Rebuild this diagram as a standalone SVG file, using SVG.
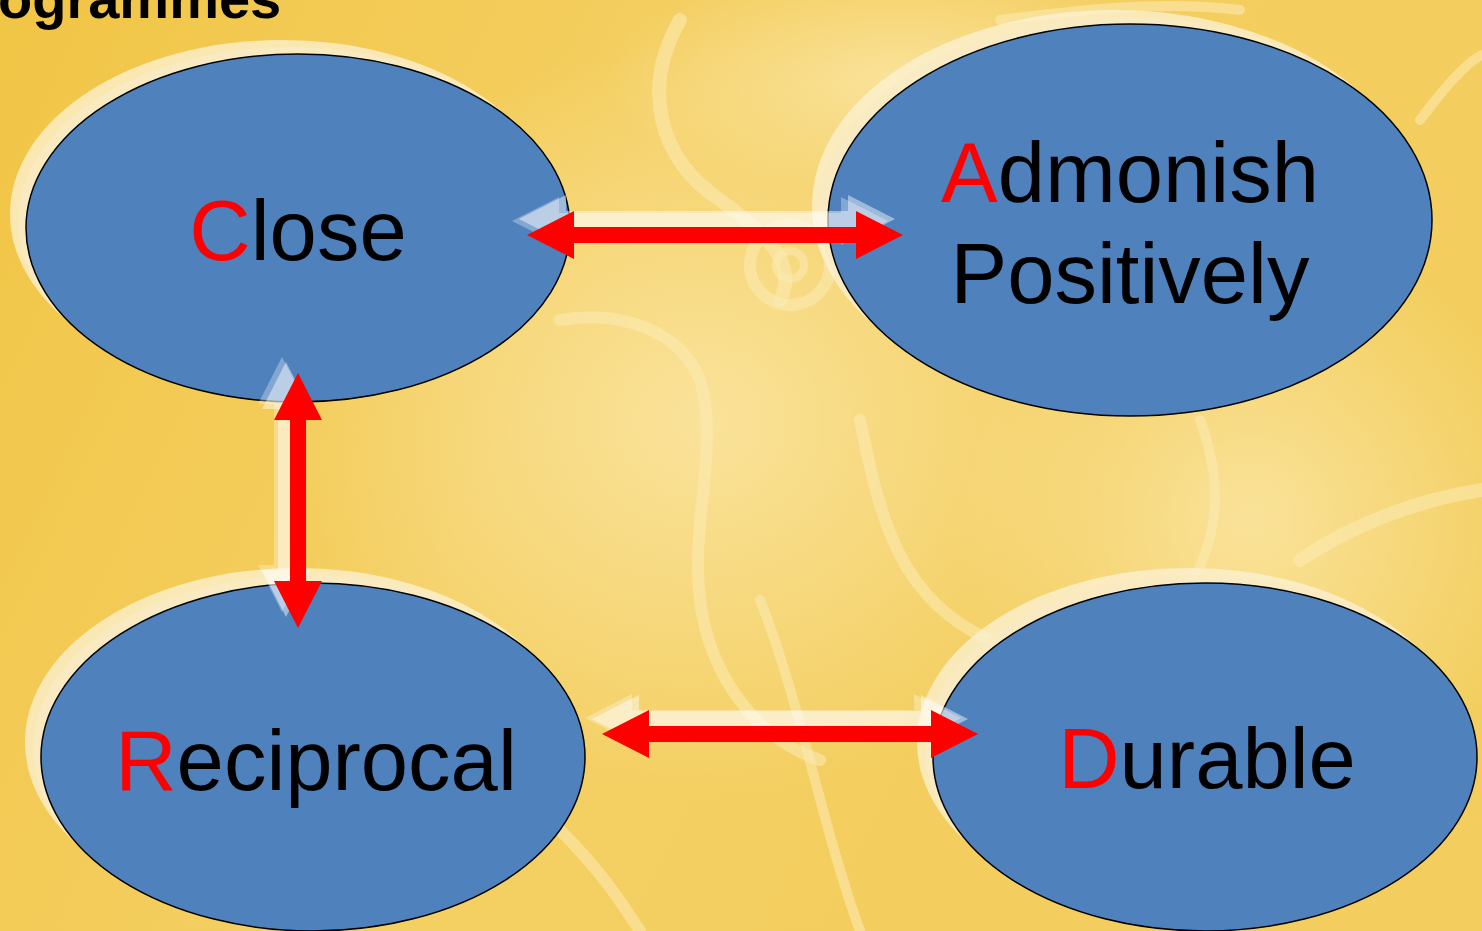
<svg xmlns="http://www.w3.org/2000/svg" width="1482" height="931" viewBox="0 0 1482 931">
<defs>
<linearGradient id="bg" x1="0" y1="0" x2="1" y2="0.3">
<stop offset="0" stop-color="#F1C545"/>
<stop offset="0.45" stop-color="#F4CF62"/>
<stop offset="1" stop-color="#F3CE5E"/>
</linearGradient>
<radialGradient id="glow1" cx="0.5" cy="0.5" r="0.5">
<stop offset="0" stop-color="#FBE7A8" stop-opacity="0.8"/>
<stop offset="1" stop-color="#FBE7A8" stop-opacity="0"/>
</radialGradient>
<path id="harr" d="M0,0 L47,-24 L47,-8 L329,-8 L329,-24 L376,0 L329,24 L329,8 L47,8 L47,24 Z"/>
<path id="varr" d="M0,0 L24,47 L8,47 L8,208 L24,208 L0,255 L-24,208 L-8,208 L-8,47 L-24,47 Z"/>
</defs>
<style>
.node{fill:#4F81BD;stroke:#000;stroke-width:1.5}
.halo1{fill:#FCF2D4;opacity:0.75}
.halo2{fill:#F8EAC2;opacity:0.9}
.lbl{font-family:"Liberation Sans",Arial,sans-serif;font-size:85px;text-anchor:middle;fill:#000}
.r{fill:#FF0000}
.arrow{fill:#FF0000}
.sh1{fill:#FFFFFF;opacity:0.45}
.sh2{fill:#FFFFFF;opacity:0.3}
.swirl{fill:none;stroke:#FCEBB5;stroke-linecap:round;opacity:0.55}
</style>
<rect width="1482" height="931" fill="url(#bg)"/>
<g id="background">
<ellipse cx="700" cy="420" rx="420" ry="380" fill="url(#glow1)"/>
<ellipse cx="1250" cy="520" rx="300" ry="300" fill="url(#glow1)"/>
<ellipse cx="900" cy="80" rx="300" ry="120" fill="url(#glow1)"/>
<path class="swirl" stroke-width="14" d="M680,20 C640,90 660,160 720,200 C760,230 800,260 780,300"/>
<path class="swirl" stroke-width="12" d="M560,320 C620,310 680,330 700,380 C720,450 690,520 700,600 C710,680 760,740 820,760"/>
<path class="swirl" stroke-width="12" d="M860,420 C880,520 900,600 990,640"/>
<path class="swirl" stroke-width="10" d="M1200,420 C1230,500 1210,560 1180,600"/>
<path class="swirl" stroke-width="14" d="M1300,560 C1360,520 1420,500 1482,490"/>
<path class="swirl" stroke-width="10" d="M1420,120 C1450,80 1470,60 1482,55"/>
<path class="swirl" stroke-width="12" d="M560,830 C600,870 620,900 640,931"/>
<path class="swirl" stroke-width="10" d="M760,600 C800,700 820,820 860,931"/>
<circle class="swirl" stroke-width="12" cx="790" cy="265" r="40"/>
<circle class="swirl" stroke-width="8" cx="790" cy="265" r="14"/>
<path class="swirl" stroke-width="10" d="M1000,20 C1080,10 1160,0 1240,10"/>
</g>
<text x="-2" y="18" font-family="'Liberation Sans',Arial,sans-serif" font-weight="bold" font-size="56" fill="#000">ogrammes</text>
<g id="close">
<ellipse class="halo1" cx="282" cy="214" rx="272" ry="174"/>
<ellipse class="halo2" cx="290" cy="221" rx="272" ry="174"/>
<ellipse class="node" cx="298" cy="228" rx="272" ry="174"/>
<text class="lbl" x="298" y="260"><tspan class="r">C</tspan>lose</text>
</g>
<g id="admonish">
<ellipse class="halo1" cx="1114" cy="206" rx="302" ry="196"/>
<ellipse class="halo2" cx="1122" cy="213" rx="302" ry="196"/>
<ellipse class="node" cx="1130" cy="220" rx="302" ry="196"/>
<text class="lbl" x="1130" y="202"><tspan class="r">A</tspan>dmonish</text>
<text class="lbl" x="1130" y="303">Positively</text>
</g>
<g id="reciprocal">
<ellipse class="halo1" cx="297" cy="742" rx="272" ry="174"/>
<ellipse class="halo2" cx="305" cy="749" rx="272" ry="174"/>
<ellipse class="node" cx="313" cy="757" rx="272" ry="174"/>
<text class="lbl" x="316" y="790"><tspan class="r">R</tspan>eciprocal</text>
</g>
<g id="durable">
<ellipse class="halo1" cx="1189" cy="742" rx="272" ry="174"/>
<ellipse class="halo2" cx="1197" cy="749" rx="272" ry="174"/>
<ellipse class="node" cx="1205" cy="757" rx="272" ry="174"/>
<text class="lbl" x="1207" y="788"><tspan class="r">D</tspan>urable</text>
</g>
<g id="connectors">
<use href="#harr" class="sh2" x="512" y="221"/>
<use href="#harr" class="sh1" x="519" y="219"/>
<use href="#harr" class="arrow" x="527" y="235"/>
<use href="#varr" class="sh2" x="282" y="357"/>
<use href="#varr" class="sh1" x="286" y="362"/>
<use href="#varr" class="arrow" x="298" y="373"/>
<use href="#harr" class="sh2" x="585" y="718"/>
<use href="#harr" class="sh1" x="592" y="719"/>
<use href="#harr" class="arrow" x="602" y="734"/>
</g>
</svg>
